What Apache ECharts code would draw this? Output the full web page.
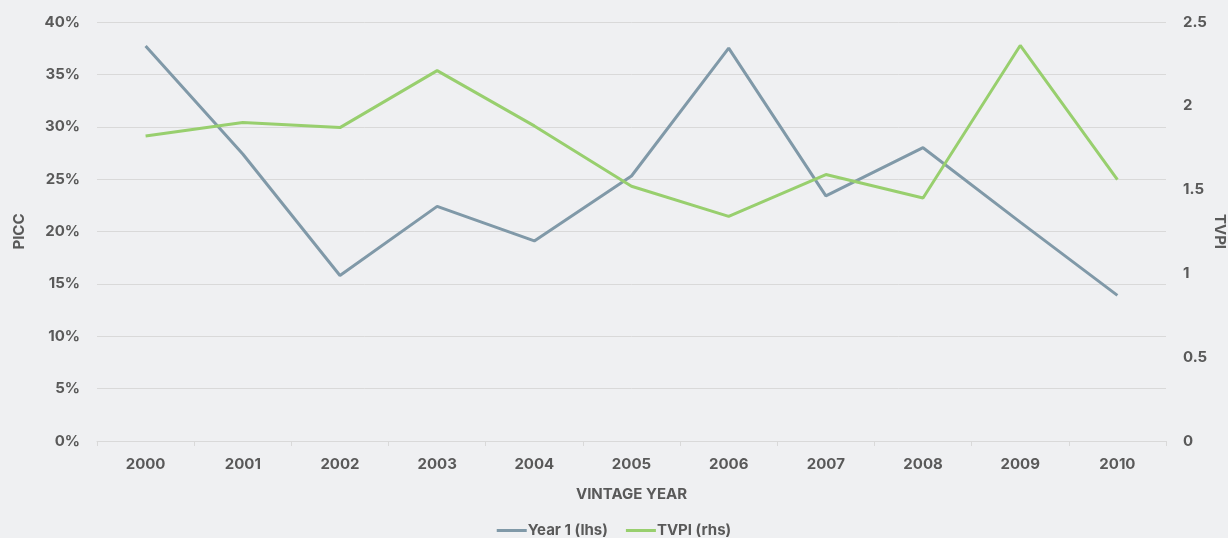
<!DOCTYPE html>
<html>
<head>
<meta charset="utf-8">
<script src="https://cdn.jsdelivr.net/npm/echarts@6/dist/echarts.min.js"></script>
<style>
  html, body { margin: 0; padding: 0; background: #eff0f2; }
  #chart { width: 1228px; height: 538px; }
</style>
</head>
<body>
<div id="chart"></div>
<script>
// Vintage years on the category axis
const years = ['2000', '2001', '2002', '2003', '2004', '2005', '2006', '2007', '2008', '2009', '2010'];
// Paid-in capital called in year 1, in percent (left axis)
const year1Picc = [37.7, 27.4, 15.8, 22.4, 19.1, 25.3, 37.5, 23.4, 28.0, 20.9, 13.9];
// Total value to paid-in multiple (right axis)
const tvpi = [1.82, 1.90, 1.87, 2.21, 1.88, 1.52, 1.34, 1.59, 1.45, 2.36, 1.56];
const seriesNames = ['Year 1 (lhs)', 'TVPI (rhs)'];

const FONT = 'Inter, "Open Sans", sans-serif';
const TEXT = '#595959';
const GRID_LINE = '#d9d9d9';
const FS = 15;

const chart = echarts.init(document.getElementById('chart'));
chart.setOption({
  backgroundColor: '#eff0f2',
  textStyle: { fontFamily: FONT },
  grid: { left: 97, right: 62, top: 22, bottom: 97, containLabel: false, outerBoundsMode: 'none' },
  legend: {
    top: 518,
    left: 'center',
    itemWidth: 30,
    itemHeight: 3,
    itemGap: 18,
    icon: 'rect',
    textStyle: { color: TEXT, fontSize: FS, fontWeight: 'bold', fontFamily: FONT, padding: [0, 0, 0, -4] },
    data: seriesNames
  },
  xAxis: {
    type: 'category',
    data: years,
    boundaryGap: true,
    name: 'VINTAGE YEAR',
    nameLocation: 'middle',
    nameGap: 46,
    nameMoveOverlap: false,
    nameTextStyle: { color: TEXT, fontSize: FS, fontWeight: 'bold' },
    axisLine: { lineStyle: { color: GRID_LINE, width: 1 } },
    axisTick: { show: true, alignWithLabel: false, length: 5, lineStyle: { color: GRID_LINE } },
    axisLabel: { color: TEXT, fontSize: FS, fontWeight: 'bold', margin: 16 }
  },
  yAxis: [
    {
      type: 'value',
      min: 0, max: 40, interval: 5,
      name: 'PICC',
      nameLocation: 'middle',
      nameGap: 70,
      nameRotate: 90,
      nameMoveOverlap: false,
      nameTextStyle: { color: TEXT, fontSize: FS, fontWeight: 'bold' },
      axisLine: { show: false },
      axisTick: { show: false },
      axisLabel: { color: TEXT, fontSize: FS, fontWeight: 'bold', margin: 17, formatter: '{value}%' },
      splitLine: { lineStyle: { color: GRID_LINE, width: 1 } }
    },
    {
      type: 'value',
      min: 0, max: 2.5, interval: 0.5,
      position: 'right',
      name: 'TVPI',
      nameLocation: 'middle',
      nameGap: 46,
      nameRotate: -90,
      nameMoveOverlap: false,
      nameTextStyle: { color: TEXT, fontSize: FS, fontWeight: 'bold' },
      axisLine: { show: false },
      axisTick: { show: false },
      axisLabel: { color: TEXT, fontSize: FS, fontWeight: 'bold', margin: 17 },
      splitLine: { show: false }
    }
  ],
  series: [
    {
      name: seriesNames[0],
      type: 'line',
      yAxisIndex: 0,
      data: year1Picc,
      symbol: 'none',
      color: '#8099a8',
      lineStyle: { width: 3, color: '#8099a8' },
      animation: false
    },
    {
      name: seriesNames[1],
      type: 'line',
      yAxisIndex: 1,
      data: tvpi,
      symbol: 'none',
      color: '#98cf6e',
      lineStyle: { width: 3, color: '#98cf6e' },
      animation: false
    }
  ]
});
</script>
</body>
</html>
